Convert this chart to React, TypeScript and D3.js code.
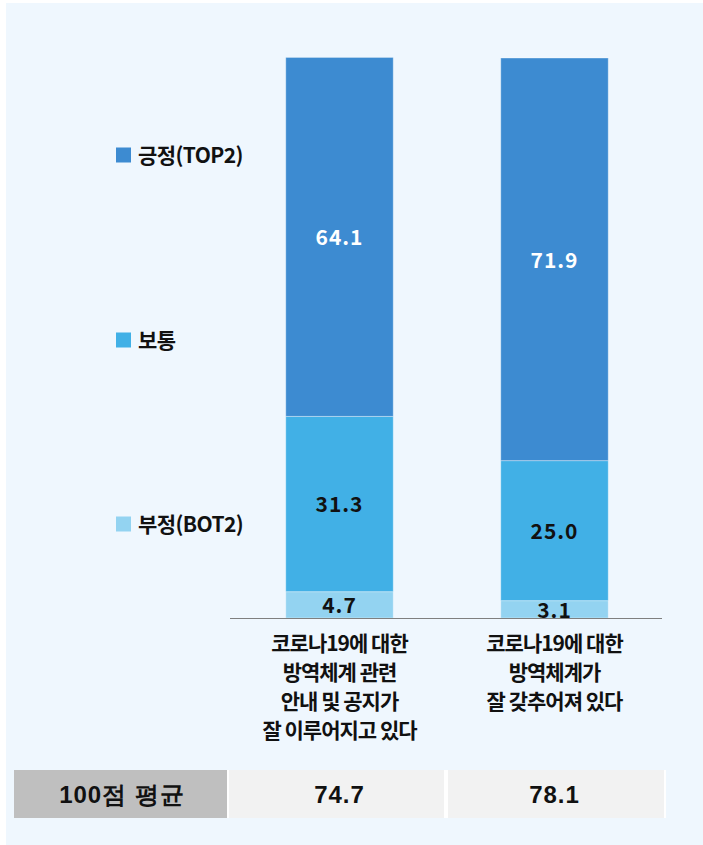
import React from "react";
import * as d3 from "d3";

const categories = [
  ["코로나19에 대한", "방역체계 관련", "안내 및 공지가", "잘 이루어지고 있다"],
  ["코로나19에 대한", "방역체계가", "잘 갖추어져 있다"],
];
const seriesNames = ["부정(BOT2)", "보통", "긍정(TOP2)"];
const bot2 = [4.7, 3.1];
const neutral = [31.3, 25.0];
const top2 = [64.1, 71.9];
const averages = [74.7, 78.1];
const avgLabel = "100점 평균";
const colors = ["#93D3F1", "#41B0E6", "#3D8BD1"];
const labelColors = ["#111", "#111", "#fff"];

const W = 703;
const H = 845;
const FONT = "'Noto Sans CJK KR', 'Noto Sans', sans-serif";

export default function App() {
  const keys = categories.map((_, i) => String(i));
  const x = d3.scaleBand<string>().domain(keys).range([232, 662]).paddingInner(0.5).paddingOuter(0.25);
  const y = d3.scaleLinear().domain([0, 100]).range([618, 58]);
  const rows = keys.map((k, i) => ({ key: k, s0: bot2[i], s1: neutral[i], s2: top2[i] }));
  const stack = d3.stack<any>().keys(["s0", "s1", "s2"])(rows);
  const legendY = [524, 340, 155];

  return (
    <svg width={W} height={H} style={{ position: "absolute", left: 0, top: 0, display: "block" }}>
      <defs>
        <clipPath id="plotclip">
          <rect x={0} y={0} width={W} height={618} />
        </clipPath>
      </defs>
      <rect x={0} y={0} width={W} height={H} fill="#fff" />
      <rect x={6} y={3} width={W - 6} height={H - 3} fill="#EFF7FE" />

      {stack.map((layer, si) => (
        <g key={si}>
          {layer.map((d, i) => (
            <rect
              key={i}
              x={x(keys[i])}
              y={y(d[1])}
              width={x.bandwidth()}
              height={y(d[0]) - y(d[1])}
              fill={colors[si]}
              stroke="rgba(255,255,255,0.35)"
              strokeWidth={1}
            />
          ))}
        </g>
      ))}
      <g clipPath="url(#plotclip)">
        {stack.map((layer, si) =>
          layer.map((d, i) => (
            <text
              key={`${si}-${i}`}
              x={(x(keys[i]) as number) + x.bandwidth() / 2}
              y={(y(d[0]) + y(d[1])) / 2}
              dy="0.4em"
              textAnchor="middle"
              fontFamily={FONT}
              fontWeight={700}
              fontSize={21}
              letterSpacing={1}
              fill={labelColors[si]}
            >
              {(d[1] - d[0]).toFixed(1)}
            </text>
          ))
        )}
      </g>
      <line x1={230} x2={662} y1={618.5} y2={618.5} stroke="#7f7f7f" strokeWidth={1} />

      {categories.map((lines, i) => (
        <text
          key={i}
          textAnchor="middle"
          fontFamily={FONT}
          fontWeight={700}
          fontSize={21}
          letterSpacing={-1}
          fill="#111"
        >
          {lines.map((ln, j) => (
            <tspan key={j} x={(x(keys[i]) as number) + x.bandwidth() / 2} y={643 + j * 29} dy="0.36em">
              {ln}
            </tspan>
          ))}
        </text>
      ))}

      {seriesNames.map((n, si) => (
        <g key={n}>
          <rect x={116} y={legendY[si] - 7.5} width={15} height={15} fill={colors[si]} />
          <text
            x={138}
            y={legendY[si]}
            dy="0.36em"
            fontFamily={FONT}
            fontWeight={700}
            fontSize={21}
            letterSpacing={-0.6}
            fill="#111"
          >
            {n}
          </text>
        </g>
      ))}

      <rect x={14} y={770} width={213} height={48} fill="#BFBFBF" />
      <text
        x={122}
        y={794}
        dy="0.36em"
        textAnchor="middle"
        fontFamily="'Liberation Sans', Arial, sans-serif"
        fontWeight={700}
        fontSize={24}
        letterSpacing={1}
        fill="#111"
      >
        {avgLabel}
      </text>
      {averages.map((v, i) => {
        const cx = (x(keys[i]) as number) + x.bandwidth() / 2;
        const x0 = i === 0 ? 227 : 446;
        const x1 = i === 0 ? 446 : 666;
        return (
          <g key={i}>
            <rect x={x0} y={770} width={x1 - x0} height={48} fill="#fff" />
            <rect x={x0 + 2} y={770} width={x1 - x0 - 4} height={48} fill="#F2F2F2" />
            <text
              x={cx}
              y={794}
              dy="0.36em"
              textAnchor="middle"
              fontFamily="'Liberation Sans', Arial, sans-serif"
              fontWeight={700}
              fontSize={24}
              letterSpacing={1}
              fill="#111"
            >
              {v.toFixed(1)}
            </text>
          </g>
        );
      })}
    </svg>
  );
}
